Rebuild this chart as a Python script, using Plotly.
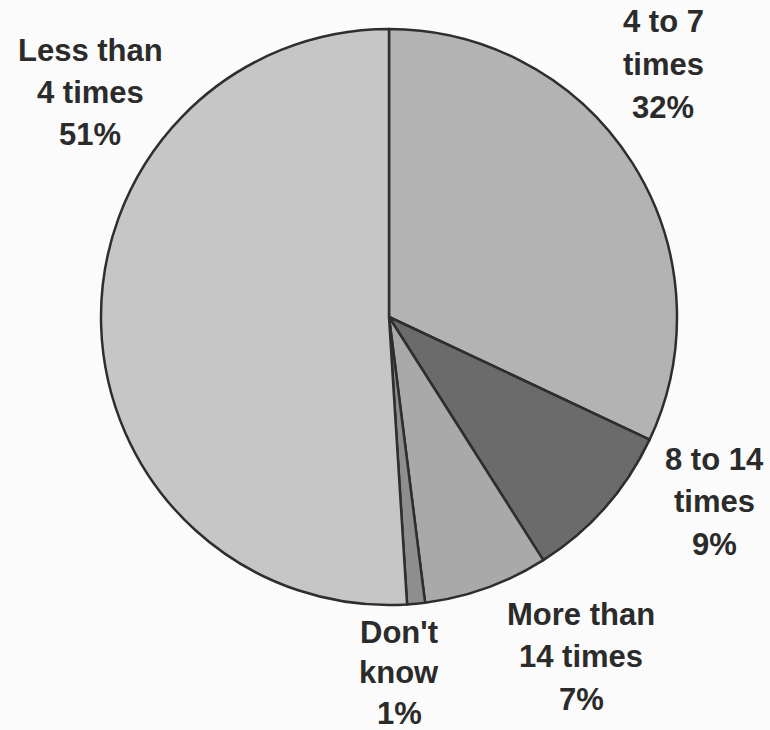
import plotly.graph_objects as go

# Survey answer categories, clockwise from 12 o'clock
categories = ["4 to 7 times", "8 to 14 times", "More than 14 times", "Don't know", "Less than 4 times"]
percentages = [32, 9, 7, 1, 51]
label_lines = [["4 to 7", "times"], ["8 to 14", "times"], ["More than", "14 times"], ["Don't", "know"], ["Less than", "4 times"]]
slice_colors = ["#b3b3b3", "#6b6b6b", "#a9a9a9", "#8e8e8e", "#c6c6c6"]

W, H = 770, 730
cx, cy, r = 389, 317, 288  # pie centre and radius in pixels

fig = go.Figure(go.Pie(
    labels=categories,
    values=percentages,
    sort=False,
    direction="clockwise",
    rotation=0,
    textinfo="none",
    hoverinfo="label+percent",
    marker=dict(colors=slice_colors, line=dict(color="#2e2e2e", width=2.5)),
    domain=dict(x=[(cx - r) / W, (cx + r) / W], y=[(H - cy - r) / H, (H - cy + r) / H]),
    showlegend=False,
))

# Label block centres (pixels, first line) and line spacing per block
label_pos = [(663, 22), (714, 459), (581, 614), (399, 632), (90, 50)]
line_gaps = [42.5, 42.5, 42.5, 40.5, 42.5]

annotations = []
for lines, pct, (lx, ly), gap in zip(label_lines, percentages, label_pos, line_gaps):
    for i, txt in enumerate(lines + [f"{pct}%"]):
        annotations.append(dict(
            x=lx / W, y=1 - (ly + i * gap) / H, xref="paper", yref="paper",
            text=f"<b>{txt}</b>", showarrow=False, xanchor="center", yanchor="middle",
            font=dict(family="Liberation Sans, Arial, sans-serif", size=31, color="#2b2b2b"),
        ))

fig.update_layout(
    width=W, height=H,
    margin=dict(l=0, r=0, t=0, b=0),
    paper_bgcolor="#fbfbfb",
    plot_bgcolor="#fbfbfb",
    annotations=annotations,
)

fig.write_html("out.html")
